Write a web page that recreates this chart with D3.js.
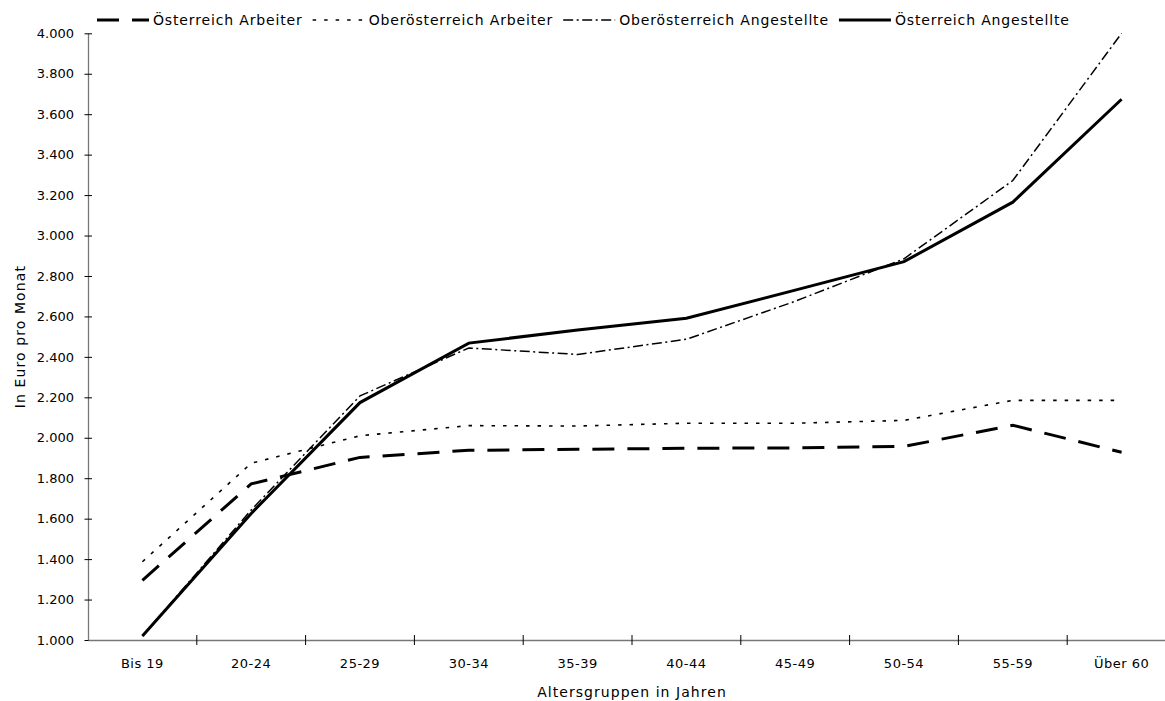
<!DOCTYPE html>
<html>
<head>
<meta charset="utf-8">
<script src="https://cdn.jsdelivr.net/npm/d3@7"></script>
<style>
  body { margin: 0; background: #fff; }
  text { font-family: "Century Gothic", "URW Gothic", "DejaVu Sans", sans-serif; fill: #000; }
</style>
</head>
<body>
<svg id="chart" width="1165" height="701"></svg>
<script>
// age groups on the x axis
var categories = ["Bis 19", "20-24", "25-29", "30-34", "35-39", "40-44", "45-49", "50-54", "55-59", "Über 60"];
// series, euro per month
var oeArbeiter = [1295, 1772, 1903, 1938, 1943, 1948, 1950, 1957, 2062, 1928];
var ooeArbeiter = [1387, 1874, 2010, 2060, 2058, 2072, 2072, 2086, 2185, 2185];
var ooeAngestellte = [1020, 1643, 2207, 2444, 2412, 2487, 2675, 2885, 3272, 4000];
var oeAngestellte = [1020, 1626, 2174, 2468, 2533, 2591, 2730, 2871, 3165, 3674];
var seriesNames = ["Österreich Arbeiter", "Oberösterreich Arbeiter", "Oberösterreich Angestellte", "Österreich Angestellte"];
var yTicks = [1000, 1200, 1400, 1600, 1800, 2000, 2200, 2400, 2600, 2800, 3000, 3200, 3400, 3600, 3800, 4000];

var series = [
    {name: seriesNames[0], values: oeArbeiter, width: 3, dash: "22,13"},
    {name: seriesNames[1], values: ooeArbeiter, width: 1.6, dash: "3.5,8"},
    {name: seriesNames[2], values: ooeAngestellte, width: 1.5, dash: "10,3.5,2,3.5"},
    {name: seriesNames[3], values: oeAngestellte, width: 3, dash: null}
];

var svg = d3.select("#chart");
var plotLeft = 88, plotTop = 33.3, plotBottom = 640;
// the plot runs a bit past the right edge of the picture
var plotRight = 1176;

var x = d3.scaleBand().domain(categories).range([plotLeft, plotRight]);
var y = d3.scaleLinear().domain([1000, 4000]).range([plotBottom, plotTop]);

var fmt = function(d) { return d3.format(",")(d).replace(",", "."); };

// y axis
var yAxis = d3.axisLeft(y).tickValues(yTicks).tickFormat(fmt).tickSize(0).tickPadding(14);
var yg = svg.append("g").attr("transform", "translate(" + plotLeft + ",0)").call(yAxis);
yg.select(".domain").attr("stroke", "#777").attr("stroke-width", 1.3);
yg.selectAll(".tick line").attr("x1", -3.5).attr("x2", 4).attr("stroke", "#000");
yg.selectAll(".tick text").attr("font-size", 13).attr("font-family", null);

// x axis
var xAxis = d3.axisBottom(x).tickSize(0).tickPadding(19);
var xg = svg.append("g").attr("transform", "translate(0," + plotBottom + ")").call(xAxis);
xg.select(".domain").attr("stroke", "#777").attr("stroke-width", 1.3);
xg.selectAll(".tick line").remove();
xg.selectAll(".tick text").attr("font-size", 13).attr("letter-spacing", 0.5).attr("font-family", null);
xg.selectAll(".cross").data(categories).enter().append("line")
    .attr("x1", function(d) { return x(d) + x.bandwidth(); })
    .attr("x2", function(d) { return x(d) + x.bandwidth(); })
    .attr("y1", -5).attr("y2", 5).attr("stroke", "#000");

// axis titles
svg.append("text").attr("transform", "translate(25," + ((plotTop + plotBottom) / 2) + ") rotate(-90)")
    .attr("text-anchor", "middle").attr("font-size", 14).attr("letter-spacing", 1.1)
    .text("In Euro pro Monat");
svg.append("text").attr("x", (plotLeft + plotRight) / 2).attr("y", 697)
    .attr("text-anchor", "middle").attr("font-size", 14).attr("letter-spacing", 1.05)
    .text("Altersgruppen in Jahren");

// lines
var line = d3.line()
    .x(function(d, i) { return x(categories[i]) + x.bandwidth() / 2; })
    .y(function(d) { return y(d); });

svg.selectAll(".series").data(series).enter().append("path")
    .attr("class", "series")
    .attr("d", function(s) { return line(s.values); })
    .attr("fill", "none")
    .attr("stroke", "#000")
    .attr("stroke-width", function(s) { return s.width; })
    .attr("stroke-dasharray", function(s) { return s.dash; });

// legend, items flow left to right
var lx = 97, ly = 20;
series.forEach(function(s) {
    svg.append("line").attr("x1", lx).attr("x2", lx + 52).attr("y1", ly).attr("y2", ly)
        .attr("stroke", "#000").attr("stroke-width", s.width)
        .attr("stroke-dasharray", s.dash);
    var t = svg.append("text").attr("x", lx + 56).attr("y", ly + 5)
        .attr("font-size", 14).attr("letter-spacing", 0.85).text(s.name);
    lx = lx + 56 + t.node().getComputedTextLength() + 10;
});
</script>
</body>
</html>
